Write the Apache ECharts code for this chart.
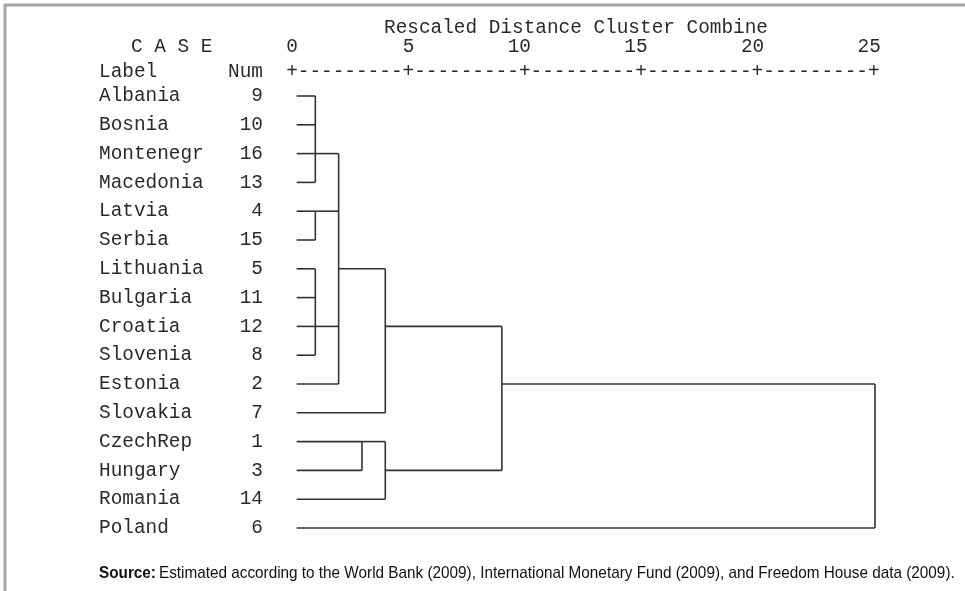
<!DOCTYPE html>
<html>
<head>
<meta charset="utf-8">
<script src="https://cdn.jsdelivr.net/npm/echarts@6/dist/echarts.min.js"></script>
<style>
html,body{margin:0;padding:0;background:#fff;}
#chart{width:965px;height:591px;}
</style>
</head>
<body>
<div id="chart"></div>
<script>
// ---- data ----
const caseLabels = ['Albania','Bosnia','Montenegr','Macedonia','Latvia','Serbia','Lithuania','Bulgaria','Croatia','Slovenia','Estonia','Slovakia','CzechRep','Hungary','Romania','Poland'];
const caseNums = [9,10,16,13,4,15,5,11,12,8,2,7,1,3,14,6];
const tickValues = [0,5,10,15,20,25];
// agglomeration: members are leaf row indices or 'cK' (earlier merge K)
const mergeMembers = [[0,1,2,3],[4,5],[6,7,8,9],['c0','c1','c2',10],['c3',11],[12,13],['c5',14],['c4','c6'],['c7',15]];
const mergeDistance = [1,1,1,2,4,3,4,9,25];
const mergeRow = [2,4,8,6,8,12,13,10,null]; // row on which the joined cluster continues
const leafStart = 0.2;
const titleText = 'Rescaled Distance Cluster Combine';
const sourceText = 'Estimated according to the World Bank (2009), International Monetary Fund (2009), and Freedom House data (2009).';

// ---- build segments ----
const segments = [];
function rowOf(m){ return typeof m === 'number' ? m : mergeRow[+m.slice(1)]; }
mergeMembers.forEach((mem, k) => {
  const d = mergeDistance[k];
  const rows = mem.map(rowOf);
  mem.forEach(m => {
    if (typeof m === 'number') segments.push([leafStart, m, d, m]);
    else { const j = +m.slice(1); segments.push([mergeDistance[j], mergeRow[j], d, mergeRow[j]]); }
  });
  segments.push([d, Math.min(...rows), d, Math.max(...rows)]);
});

const MONO = "'Liberation Mono','Courier New',monospace";
const FS = 19.4;
const TXT = '#2a2a2a';
const LINE = '#333333';

const chart = echarts.init(document.getElementById('chart'));
const option = {
  animation: false,
  backgroundColor: '#fff',
  title: {
    text: titleText, left: 379, top: 12,
    textStyle: {fontFamily: MONO, fontSize: FS, fontWeight: 'normal', color: TXT, lineHeight: 22}
  },
  grid: [
    {left: 292, right: 90, top: 96, bottom: 63},
    {left: 297.8, right: 84.2, top: 96, bottom: 63}
  ],
  xAxis: [
    {type: 'value', gridIndex: 0, min: 0, max: 25, show: false},
    {type: 'value', gridIndex: 1, min: 0, max: 25, interval: 5, position: 'top',
     axisLine: {show: false}, axisTick: {show: false}, splitLine: {show: false},
     axisLabel: {align: 'right', margin: 39, fontFamily: MONO, fontSize: FS, color: TXT, lineHeight: 20,
       formatter: v => tickValues.indexOf(v) >= 0 ? String(v) : ''}}
  ],
  yAxis: [
    {type: 'category', gridIndex: 0, data: caseLabels, inverse: true, boundaryGap: false,
     axisLine: {show: false}, axisTick: {show: false}, splitLine: {show: false},
     axisLabel: {margin: 29, interval: 0,
       formatter: (v, i) => '{n|' + v + '}{v|' + caseNums[i] + '}',
       rich: {
         n: {width: 122, align: 'left', fontFamily: MONO, fontSize: FS, color: TXT},
         v: {width: 42, align: 'right', fontFamily: MONO, fontSize: FS, color: TXT}
       }}},
    {type: 'category', gridIndex: 1, data: caseLabels, inverse: true, boundaryGap: false, show: false}
  ],
  series: [{
    type: 'custom',
    xAxisIndex: 0, yAxisIndex: 0,
    data: segments,
    encode: {x: [0, 2], y: [1, 3]},
    renderItem: (params, api) => {
      const p1 = api.coord([api.value(0), api.value(1)]);
      const p2 = api.coord([api.value(2), api.value(3)]);
      return {type: 'line', shape: {x1: p1[0], y1: p1[1], x2: p2[0], y2: p2[1]},
        style: {stroke: LINE, lineWidth: 1.6}};
    }
  }]
};
chart.setOption(option);

const x0 = chart.convertToPixel({xAxisIndex: 0}, 0);
const x25 = chart.convertToPixel({xAxisIndex: 0}, 25);
const cell = (x25 - x0) / 50;
const ruler = '+' + ('-'.repeat(9) + '+').repeat(5);
const SANS = "'Liberation Sans Narrow','Arial Narrow','Liberation Sans',Arial,sans-serif";
chart.setOption({
  graphic: [
    {type: 'line', shape: {x1: 4, y1: 5, x2: 965, y2: 5}, style: {stroke: '#a6a6a6', lineWidth: 3}},
    {type: 'line', shape: {x1: 5, y1: 4, x2: 5, y2: 591}, style: {stroke: '#a6a6a6', lineWidth: 3}},
    {type: 'text', left: 131, top: 37, style: {text: 'C A S E', font: FS + 'px ' + MONO, fill: TXT}},
    {type: 'text', left: 99, top: 62, style: {text: 'Label', font: FS + 'px ' + MONO, fill: TXT}},
    {type: 'text', x: 263, y: 72, style: {text: 'Num', font: FS + 'px ' + MONO, fill: TXT, align: 'right', verticalAlign: 'middle'}},
    {type: 'text', x: x0 - cell / 2, y: 72, style: {text: ruler, font: FS + 'px ' + MONO, fill: TXT, align: 'left', verticalAlign: 'middle'}},
    {type: 'text', x: 99, y: 573, scaleX: 0.9, style: {
      text: '{b|Source:} {r|' + sourceText + '}', verticalAlign: 'middle',
      rich: {
        b: {fontFamily: SANS, fontSize: 17, fontWeight: 'bold', fill: '#111'},
        r: {fontFamily: SANS, fontSize: 17, fill: '#111'}
      }}}
  ]
});
</script>
</body>
</html>
